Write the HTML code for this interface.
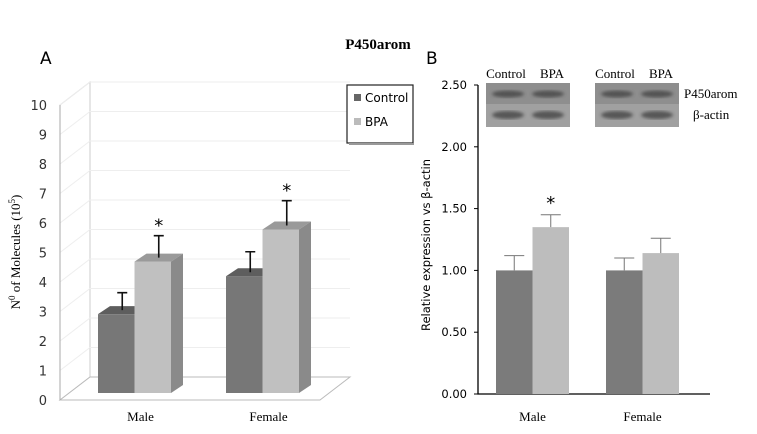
<!DOCTYPE html>
<html><head><meta charset="utf-8"><style>
body{margin:0;background:#fff}
svg text{font-family:"Liberation Serif",serif}
.sans{font-family:"DejaVu Sans","Liberation Sans",sans-serif}
</style></head><body>
<svg width="757" height="429" viewBox="0 0 757 429" xmlns="http://www.w3.org/2000/svg">
<defs><filter id="bl"><feGaussianBlur stdDeviation="1.5"/></filter></defs>
<text x="378" y="49" text-anchor="middle" font-weight="bold" font-size="15">P450arom</text>
<text x="40" y="64" class="sans" font-size="17">A</text>
<text x="426" y="64" class="sans" font-size="17">B</text>
<g id="pa"></g>
<g id="pb"></g>
</svg>
<script>
const NS="http://www.w3.org/2000/svg";
const groupsA=["Male","Female"];
const ctrlA=[2.7,4.0];
const bpaA=[4.5,5.6];
const ctrlErrA=[0.6,0.7];
const bpaErrA=[0.75,0.85];
const sigA=[true,true];
const ticksA=[0,1,2,3,4,5,6,7,8,9,10];

const groupsB=["Male","Female"];
const ctrlB=[1.0,1.0];
const bpaB=[1.35,1.14];
const ctrlErrB=[0.12,0.10];
const bpaErrB=[0.10,0.12];
const sigB=[true,false];
const ticksB=[0,0.5,1,1.5,2,2.5];

function mk(p,tag,at,txt){const e=document.createElementNS(NS,tag);for(const k in at)e.setAttribute(k,at[k]);if(txt!=null)e.textContent=txt;p.appendChild(e);return e;}

const pa=document.getElementById('pa');
const yA=v=>400-v*29.5; const DX=30,DY=-23;
const yBar=v=>393-v*29.2;
let e;
e=mk(pa,'polygon',{points:`60,400 ${60+DX},${400+DY} ${60+DX},${105+DY} 60,105`,fill:'#fff',stroke:'#ccc'});

e=mk(pa,'polygon',{points:`60,400 ${60+DX},${400+DY} 350,${400+DY} 320,400`,fill:'#fff',stroke:'#bbb'});

ticksA.forEach(t=>{
 if(t>0){e=mk(pa,'line',{x1:60+DX,x2:350,y1:yA(t)+DY,y2:yA(t)+DY,stroke:'#eee'});
 
 e=mk(pa,'line',{x1:60,x2:60+DX,y1:yA(t),y2:yA(t)+DY,stroke:'#eee'});
 }
 e=mk(pa,'text',{x:47,y:yA(t)+5,'text-anchor':'end','font-size':13,class:'sans',fill:'#333'},t);
 
});
e=mk(pa,'line',{x1:60,x2:60,y1:400,y2:105,stroke:'#aaa'});

e=mk(pa,'text',{transform:'translate(20,252) rotate(-90)','text-anchor':'middle','font-size':13},'N');

e.innerHTML='N<tspan font-size="9" dy="-5">0</tspan><tspan dy="5"> of Molecules (10</tspan><tspan font-size="9" dy="-5">5</tspan><tspan dy="5">)</tspan>';
const xA=[98,226],BW=36.5,dx=12,dy=-8;
function bar3(x,v,front,top,side,name,err,sig){
 const y=yBar(v),b=393;
 let r=mk(pa,'rect',{x:x,y:y,width:BW,height:b-y,fill:front});
 
 r=mk(pa,'polygon',{points:`${x},${y} ${x+dx},${y+dy} ${x+BW+dx},${y+dy} ${x+BW},${y}`,fill:top});
 
 r=mk(pa,'polygon',{points:`${x+BW},${y} ${x+BW+dx},${y+dy} ${x+BW+dx},${b+dy} ${x+BW},${b}`,fill:side});
 
 const cx=x+BW/2+dx/2, ye=yBar(v+err)+dy/2;
 r=mk(pa,'path',{d:`M${cx},${y+dy/2} V${ye} M${cx-5},${ye} H${cx+5}`,stroke:'#111','stroke-width':1.6,fill:'none'});
 
 if(sig){r=mk(pa,'text',{x:cx,y:ye-4,'text-anchor':'middle','font-size':18,class:'sans'},'*');
 }
}
groupsA.forEach((g,i)=>{
 bar3(xA[i],ctrlA[i],'#777','#5e5e5e','#666','bar-control-'+g.toLowerCase(),ctrlErrA[i],false);
 bar3(xA[i]+BW,bpaA[i],'#c0c0c0','#9a9a9a','#8a8a8a','bar-bpa-'+g.toLowerCase(),bpaErrA[i],sigA[i]);
 e=mk(pa,'text',{x:xA[i]+BW+6,y:421,'text-anchor':'middle','font-size':13},g);
 
});
e=mk(pa,'rect',{x:347,y:85,width:66,height:58,fill:'#fff',stroke:'#222','stroke-width':1.2});

e=mk(pa,'line',{x1:349,y1:144,x2:414,y2:144,stroke:'#999','stroke-width':2});
e=mk(pa,'rect',{x:354,y:94,width:7,height:7,fill:'#666'});

e=mk(pa,'text',{x:365,y:102,'font-size':12,class:'sans'},'Control');

e=mk(pa,'rect',{x:354,y:118,width:7,height:7,fill:'#bbb'});

e=mk(pa,'text',{x:365,y:126,'font-size':12,class:'sans'},'BPA');


const pb=document.getElementById('pb');
const yB=v=>394-v*123.6;
ticksB.forEach(t=>{
 e=mk(pb,'line',{x1:474,x2:478,y1:yB(t),y2:yB(t),stroke:'#000'});
 
 e=mk(pb,'text',{x:467,y:yB(t)+4,'text-anchor':'end','font-size':11.5,class:'sans'},t.toFixed(2));
 
});
e=mk(pb,'path',{d:'M478,85 V394 H710',stroke:'#000','stroke-width':1.3,fill:'none'});

e=mk(pb,'text',{transform:'translate(430,245) rotate(-90)','text-anchor':'middle','font-size':11.5,class:'sans'},'Relative expression vs β-actin');

const xB=[496,606],BWB=36.5;
function barB(x,v,err,fill,name,sig){
 let r=mk(pb,'rect',{x:x,y:yB(v),width:BWB,height:394-yB(v),fill:fill});
 
 const cx=x+BWB/2,ye=yB(v+err);
 r=mk(pb,'path',{d:`M${cx},${yB(v)} V${ye} M${cx-10},${ye} H${cx+10}`,stroke:'#777','stroke-width':1,fill:'none'});
 
 if(sig){r=mk(pb,'text',{x:cx,y:ye-6,'text-anchor':'middle','font-size':18,class:'sans'},'*');
 }
}
groupsB.forEach((g,i)=>{
 barB(xB[i],ctrlB[i],ctrlErrB[i],'#7b7b7b','bar-control-'+g.toLowerCase(),false);
 barB(xB[i]+BWB,bpaB[i],bpaErrB[i],'#bdbdbd','bar-bpa-'+g.toLowerCase(),sigB[i]);
 e=mk(pb,'text',{x:xB[i]+BWB,y:421,'text-anchor':'middle','font-size':13},g);
 
});
[[486,83],[595,83]].forEach((p,k)=>{
 const [bx,by]=p;
 e=mk(pb,'rect',{x:bx,y:by,width:84,height:21,fill:'#8e8e8e'});
 
 e=mk(pb,'rect',{x:bx,y:by+21,width:84,height:23,fill:'#a0a0a0'});
 
 [bx+22,bx+62].forEach(cx=>{
  mk(pb,'ellipse',{cx:cx,cy:by+11,rx:16,ry:3.5,fill:'#444',opacity:0.8,filter:'url(#bl)'});
  mk(pb,'ellipse',{cx:cx,cy:by+32,rx:16,ry:4,fill:'#444',opacity:0.8,filter:'url(#bl)'});
 });
 e=mk(pb,'text',{x:bx+20,y:78,'text-anchor':'middle','font-size':13},'Control');
 
 e=mk(pb,'text',{x:bx+66,y:78,'text-anchor':'middle','font-size':13},'BPA');
 
});
e=mk(pb,'text',{x:684,y:98,'font-size':13},'P450arom');

e=mk(pb,'text',{x:693,y:119,'font-size':13},'β-actin');

</script>
</body></html>
